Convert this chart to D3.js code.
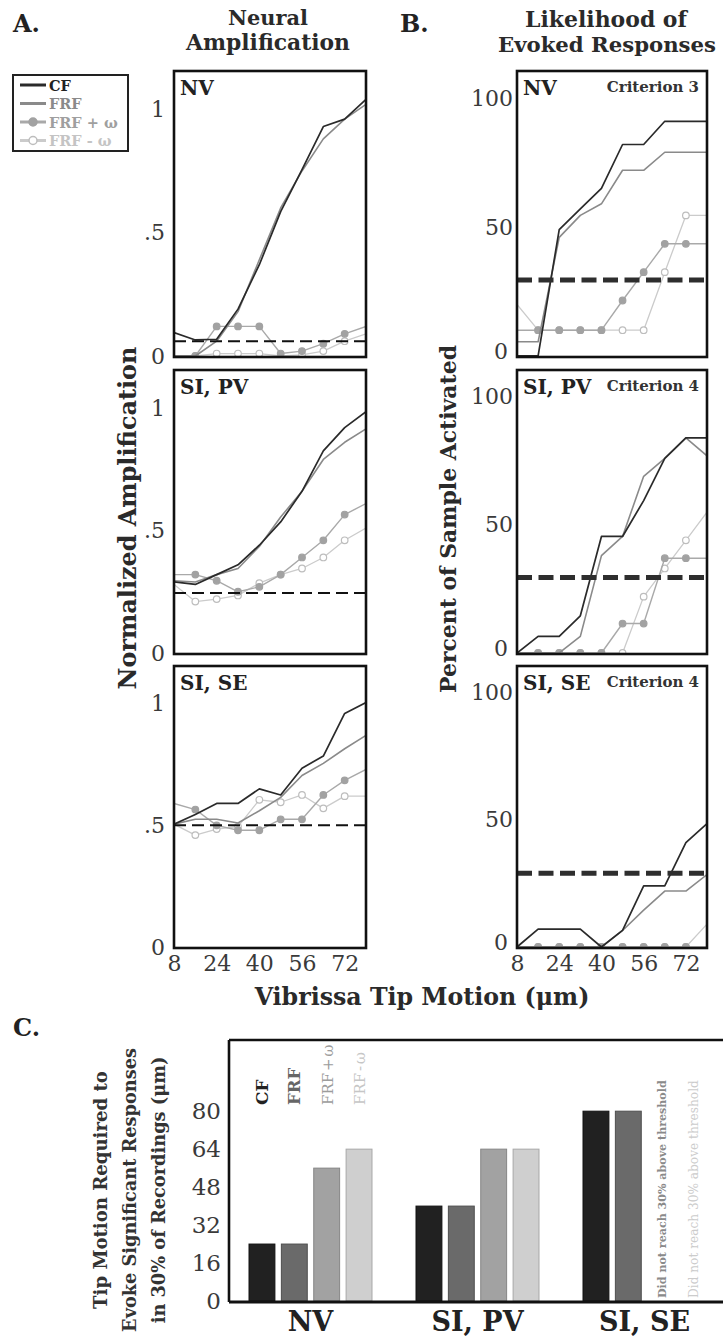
<!DOCTYPE html>
<html><head><meta charset="utf-8">
<script src="https://cdn.jsdelivr.net/npm/d3@7"></script>
<style>
body{margin:0;background:#fff}
svg{display:block}
text{font-family:"DejaVu Serif",serif}
</style>
</head><body>
<svg id="c" width="723" height="1341"></svg>
<script>
// ---------------- DATA ----------------
const motion = [8,16,24,32,40,48,56,64,72,80];
const xTicks = [8,24,40,56,72];
const seriesNames = ["CF","FRF","FRF + ω","FRF - ω"];
const regions = ["NV","SI, PV","SI, SE"];

// Panel A: normalized amplification
const ampNV_CF       = [0.095,0.065,0.068,0.19,0.37,0.585,0.755,0.93,0.96,1.04];
const ampNV_FRF      = [0,0,0.06,0.18,0.39,0.60,0.75,0.88,0.96,1.02];
const ampNV_FRFplus  = [0,0,0.12,0.12,0.12,0.01,0.02,0.05,0.09,0.12];
const ampNV_FRFminus = [0,0,0.01,0.01,0.01,0,0.005,0.02,0.06,0.09];
const ampPV_CF       = [0.29,0.28,0.32,0.36,0.44,0.535,0.66,0.825,0.92,0.985];
const ampPV_FRF      = [0.295,0.29,0.32,0.345,0.435,0.555,0.66,0.79,0.86,0.915];
const ampPV_FRFplus  = [0.32,0.32,0.295,0.25,0.27,0.32,0.39,0.46,0.565,0.61];
const ampPV_FRFminus = [0.28,0.21,0.22,0.235,0.285,0.32,0.345,0.39,0.46,0.51];
const ampSE_CF       = [0.505,0.545,0.59,0.59,0.65,0.625,0.735,0.785,0.96,1.005];
const ampSE_FRF      = [0.505,0.525,0.525,0.51,0.56,0.615,0.705,0.755,0.815,0.87];
const ampSE_FRFplus  = [0.59,0.565,0.50,0.48,0.48,0.525,0.525,0.625,0.685,0.73];
const ampSE_FRFminus = [0.505,0.46,0.485,0.495,0.605,0.595,0.625,0.57,0.62,0.62];
const ampThreshold = [0.06,0.245,0.5];
const ampTicks = [0,0.5,1];
const ampTickLabels = ["0",".5","1"];

// Panel B: percent of sample activated
const pctNV_CF       = [0,0,49,57,65,82,82,91,91,91];
const pctNV_FRF      = [5.5,5.5,46,54.5,59,72,72,79,79,79];
const pctNV_FRFplus  = [10,10,10,10,10,21.5,32.5,43.5,43.5,43.5];
const pctNV_FRFminus = [20,10,10,10,10,10,10,32.5,54.5,54.5];
const pctPV_CF       = [0,6.5,6.5,14.5,45.5,45.5,59.5,76,84,84];
const pctPV_FRF      = [0,0,0,6.5,38,45.5,69,76,84,77];
const pctPV_FRFplus  = [0,0,0,0,0,11.5,11.5,37,37,37];
const pctPV_FRFminus = [0,0,0,0,0,0,22,33,44,55];
const pctSE_CF       = [0,7,7,7,0,6.5,24,24,41,48.5];
const pctSE_FRF      = [0,0,0,0,0,6.5,14.5,22,22,28.5];
const pctSE_FRFplus  = [0,0,0,0,0,0,0,0,0,0];
const pctSE_FRFminus = [0,0,0,0,0,0,0,0,0,9];
const pctThreshold = [29.5,29.5,29];
const pctTicks = [0,50,100];
const criteria = ["Criterion 3","Criterion 4","Criterion 4"];

// Panel C: tip motion required (null = did not reach threshold)
const groups = ["NV","SI, PV","SI, SE"];
const reqCF       = [24,40,80];
const reqFRF      = [24,40,80];
const reqFRFplus  = [56,64,null];
const reqFRFminus = [64,64,null];
const reqTicks = [0,16,32,48,64,80];
const notReachedText = "Did not reach 30% above threshold";

// ---------------- DRAW ----------------
const svg = d3.select("#c");
svg.append("rect").attr("width",723).attr("height",1341).attr("fill","#fff");

function fit(sel, w){
  const n = sel.node(); const fs = parseFloat(sel.attr("font-size"));
  const l = n.getComputedTextLength(); sel.attr("font-size", fs*w/l);
  return sel;
}

const styles = [
  {stroke:"#2a2a2a", w:1.7},
  {stroke:"#8a8a8a", w:1.6},
  {stroke:"#a9a9a9", w:1.4, marker:"filled", mfill:"#a2a2a2", mstroke:"#a2a2a2"},
  {stroke:"#cbcbcb", w:1.3, marker:"open", mfill:"#fff", mstroke:"#bdbdbd"}
];

const rows = [{top:71,bottom:357},{top:370,bottom:654},{top:666,bottom:948}];
const colA = {left:174,right:366};
const colB = {left:517,right:707};

const ampData = [
  [ampNV_CF,ampNV_FRF,ampNV_FRFplus,ampNV_FRFminus],
  [ampPV_CF,ampPV_FRF,ampPV_FRFplus,ampPV_FRFminus],
  [ampSE_CF,ampSE_FRF,ampSE_FRFplus,ampSE_FRFminus]];
const pctData = [
  [pctNV_CF,pctNV_FRF,pctNV_FRFplus,pctNV_FRFminus],
  [pctPV_CF,pctPV_FRF,pctPV_FRFplus,pctPV_FRFminus],
  [pctSE_CF,pctSE_FRF,pctSE_FRFplus,pctSE_FRFminus]];

let clipId = 0;
function panel(col,row,series,thr,yDomain,ticks,tickFmt,isB,r){
  const xs = d3.scaleLinear().domain([8,80]).range([col.left,col.right]);
  const ys = d3.scaleLinear().domain(yDomain).range([row.bottom,row.top]);
  const id = "clip"+(clipId++);
  svg.append("clipPath").attr("id",id).append("rect")
    .attr("x",col.left).attr("y",row.top).attr("width",col.right-col.left).attr("height",row.bottom-row.top);
  const g = svg.append("g").attr("clip-path",`url(#${id})`);
  const line = d3.line().x((d,i)=>xs(motion[i])).y(d=>ys(d));
  [3,2,1,0].forEach(si=>{
    const st = styles[si];
    g.append("path").datum(series[si]).attr("d",line).attr("fill","none")
      .attr("stroke",st.stroke).attr("stroke-width",st.w).attr("stroke-linejoin","round");
    if(st.marker){
      g.selectAll(null).data(series[si].map((v,i)=>({v,i})).filter(d=>d.i>0&&d.i<9)).enter()
        .append("circle").attr("cx",d=>xs(motion[d.i])).attr("cy",d=>ys(d.v)).attr("r",3.3)
        .attr("fill",st.mfill).attr("stroke",st.mstroke).attr("stroke-width",1.2);
    }
  });
  // threshold
  svg.append("line").attr("x1",col.left).attr("x2",col.right+(isB?0:2)).attr("y1",ys(thr)).attr("y2",ys(thr))
    .attr("stroke",isB?"#2e2e2e":"#111").attr("stroke-width",isB?5:2)
    .attr("stroke-dasharray",isB?"15,6.5":"12,6");
  // box
  svg.append("rect").attr("x",col.left).attr("y",row.top).attr("width",col.right-col.left).attr("height",row.bottom-row.top)
    .attr("fill","none").attr("stroke","#111").attr("stroke-width",2.6);
  // y axis labels
  const ax = svg.append("g").attr("transform",`translate(${col.left},0)`)
    .call(d3.axisLeft(ys).tickValues(ticks).tickFormat(tickFmt).tickSize(0).tickPadding(isB?4:9));
  ax.select(".domain").remove();
  ax.selectAll("text").attr("font-family","DejaVu Serif").attr("font-size",22).attr("fill","#3a3a3a");
  if(isB) ax.selectAll(".tick").filter(d=>d===0).select("text").attr("y",-5).attr("x",-9);
  // region label
  svg.append("text").attr("x",col.left+6).attr("y",row.top+24).attr("font-size",20).attr("font-weight","bold")
    .attr("fill","#222").text(regions[r]);
  if(isB){
    svg.append("text").attr("x",col.right-8).attr("y",row.top+21).attr("text-anchor","end")
      .attr("font-size",15).attr("font-weight","bold").attr("fill","#333").text(criteria[r]);
  }
  if(r===2){
    const xa = svg.append("g").attr("transform",`translate(0,${row.bottom})`)
      .call(d3.axisBottom(xs).tickValues(xTicks).tickSize(0).tickPadding(7));
    xa.select(".domain").remove();
    xa.selectAll("text").attr("font-family","DejaVu Serif").attr("font-size",22).attr("fill","#3a3a3a");
  }
}
for(let r=0;r<3;r++){
  panel(colA,rows[r],ampData[r],ampThreshold[r],[-0.004,1.155],ampTicks,(d,i)=>ampTickLabels[i],false,r);
  panel(colB,rows[r],pctData[r],pctThreshold[r],[-0.4,110.5],pctTicks,d3.format("d"),true,r);
}

// headers
svg.append("text").attr("x",13).attr("y",32).attr("font-size",24).attr("font-weight","bold").attr("fill","#222").text("A.");
svg.append("text").attr("x",400).attr("y",32).attr("font-size",24).attr("font-weight","bold").attr("fill","#222").text("B.");
fit(svg.append("text").attr("x",268).attr("y",25).attr("text-anchor","middle").attr("font-size",22).attr("font-weight","bold").attr("fill","#2a2a2a").text("Neural"),80);
fit(svg.append("text").attr("x",268).attr("y",50).attr("text-anchor","middle").attr("font-size",22).attr("font-weight","bold").attr("fill","#2a2a2a").text("Amplification"),164);
fit(svg.append("text").attr("x",606).attr("y",27).attr("text-anchor","middle").attr("font-size",22).attr("font-weight","bold").attr("fill","#2a2a2a").text("Likelihood of"),162);
fit(svg.append("text").attr("x",607).attr("y",52).attr("text-anchor","middle").attr("font-size",22).attr("font-weight","bold").attr("fill","#2a2a2a").text("Evoked Responses"),218);

// y titles
fit(svg.append("text").attr("transform","translate(136,518) rotate(-90)").attr("text-anchor","middle")
  .attr("font-size",22).attr("font-weight","bold").attr("fill","#2a2a2a").text("Normalized Amplification"),343);
fit(svg.append("text").attr("transform","translate(456,519) rotate(-90)").attr("text-anchor","middle")
  .attr("font-size",22).attr("font-weight","bold").attr("fill","#2a2a2a").text("Percent of Sample Activated"),348);
// x title
fit(svg.append("text").attr("x",422).attr("y",1005).attr("text-anchor","middle")
  .attr("font-size",22).attr("font-weight","bold").attr("fill","#2a2a2a").text("Vibrissa Tip Motion (μm)"),335);

// legend
const lg = svg.append("g");
lg.append("rect").attr("x",13).attr("y",75).attr("width",115).attr("height",76).attr("fill","#fff").attr("stroke","#222").attr("stroke-width",2);
const legColors = ["#222","#8a8a8a","#9f9f9f","#c4c4c4"];
seriesNames.forEach((s,i)=>{
  const y = 85+i*18.5;
  const st = styles[i];
  lg.append("line").attr("x1",20).attr("x2",46).attr("y1",y).attr("y2",y).attr("stroke",st.stroke).attr("stroke-width",3);
  if(st.marker) lg.append("circle").attr("cx",33).attr("cy",y).attr("r",4).attr("fill",st.mfill).attr("stroke",st.mstroke).attr("stroke-width",1.5);
  lg.append("text").attr("x",49).attr("y",y+5.5).attr("font-size",14.5).attr("font-weight","bold").attr("fill",legColors[i]).text(s);
});

// ---------------- PANEL C ----------------
svg.append("text").attr("x",13).attr("y",1036).attr("font-size",24).attr("font-weight","bold").attr("fill","#222").text("C.");
const cTop=1040, cBot=1302, cLeft=229;
const yC = d3.scaleLinear().domain([0,110]).range([1301,cTop]);
const x0 = d3.scaleBand().domain(groups).range([227,728]);
const x1 = d3.scaleBand().domain(seriesNames).range([0,x0.bandwidth()]).paddingInner(0.2).paddingOuter(0.68);
const reqData = [reqCF,reqFRF,reqFRFplus,reqFRFminus];
const barFill = ["#212121","#6a6a6a","#a2a2a2","#cfcfcf"];
const barStroke = ["#111","#4e4e4e","#858585","#a9a9a9"];
const labelColors = ["#222","#666","#9c9c9c","#c6c6c6"];
const notReachColors = ["#8a8a8a","#cccccc"];
groups.forEach((gname,gi)=>{
  seriesNames.forEach((s,si)=>{
    const v = reqData[si][gi];
    const bx = x0(gname)+x1(s);
    if(v!==null){
      svg.append("rect").attr("x",bx).attr("y",yC(v)).attr("width",x1.bandwidth()).attr("height",yC(0)-yC(v))
        .attr("fill",barFill[si]).attr("stroke",barStroke[si]).attr("stroke-width",1);
    } else {
      fit(svg.append("text").attr("transform",`translate(${bx+x1.bandwidth()/2+5},1298) rotate(-90)`)
        .attr("font-size",13).attr("font-weight",si===2?"bold":"normal").attr("fill",notReachColors[si-2]).text(notReachedText),218);
    }
  });
});
// series labels above NV bars
const labelSize = [17,16.5,15,15];
seriesNames.forEach((s,si)=>{
  svg.append("text").attr("transform",`translate(${x0("NV")+x1(s)+x1.bandwidth()/2+6},1105) rotate(-90)`)
    .attr("font-size",labelSize[si]).attr("word-spacing",-3).attr("font-weight",si<2?"bold":"normal")
    .attr("fill",labelColors[si]).text(s);
});
// frame
svg.append("line").attr("x1",cLeft).attr("x2",723).attr("y1",cTop).attr("y2",cTop).attr("stroke","#111").attr("stroke-width",2.6);
svg.append("line").attr("x1",cLeft).attr("x2",723).attr("y1",cBot).attr("y2",cBot).attr("stroke","#111").attr("stroke-width",3);
svg.append("line").attr("x1",cLeft).attr("x2",cLeft).attr("y1",cTop).attr("y2",cBot).attr("stroke","#111").attr("stroke-width",2.6);
const axC = svg.append("g").attr("transform",`translate(${cLeft},0)`)
  .call(d3.axisLeft(yC).tickValues(reqTicks).tickSize(0).tickPadding(8));
axC.select(".domain").remove();
axC.selectAll("text").attr("font-family","DejaVu Serif").attr("font-size",23).attr("fill","#3a3a3a");
// group labels
groups.forEach(gname=>{
  svg.append("text").attr("x",x0(gname)+x0.bandwidth()/2).attr("y",1331).attr("text-anchor","middle")
    .attr("font-size",27).attr("font-weight","bold").attr("fill","#222").text(gname);
});
// y title lines
const cTitle = ["Tip Motion Required to","Evoke Significant Responses","in 30% of Recordings (μm)"];
const cTitleX = [107,136,165];
const cTitleW = [238,284,267];
cTitle.forEach((t,i)=>{
  fit(svg.append("text").attr("transform",`translate(${cTitleX[i]},1190) rotate(-90)`).attr("text-anchor","middle")
    .attr("font-size",20).attr("font-weight","bold").attr("fill","#333").text(t),cTitleW[i]);
});
</script>
</body></html>
